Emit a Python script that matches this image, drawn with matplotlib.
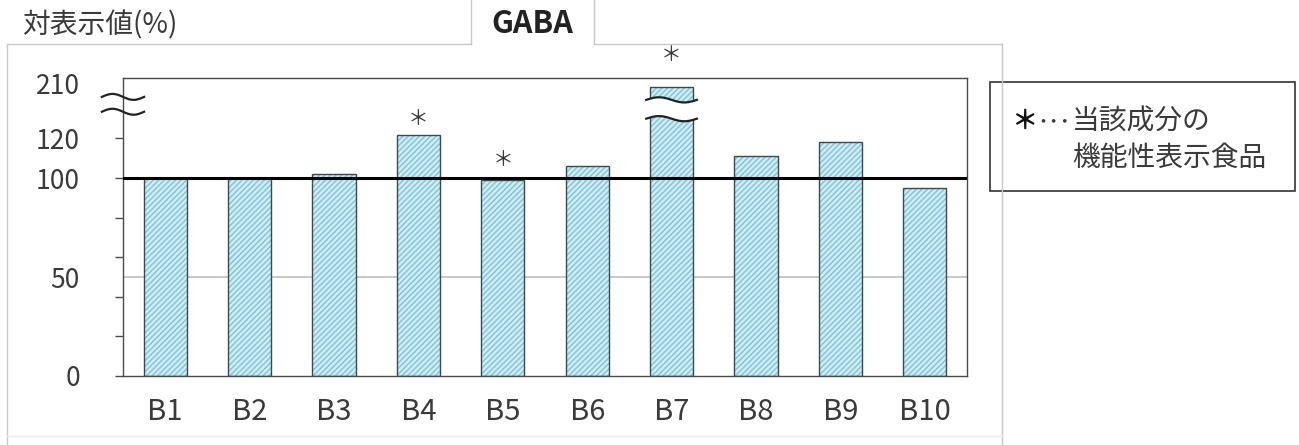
import numpy as np
import matplotlib
matplotlib.use('Agg')
import matplotlib.pyplot as plt
from matplotlib.lines import Line2D
from matplotlib.patches import Rectangle, Polygon

plt.rcParams['font.family'] = ['Noto Sans CJK JP', 'DejaVu Sans']

# data (% of labelled value)
labels = ['B1', 'B2', 'B3', 'B4', 'B5', 'B6', 'B7', 'B8', 'B9', 'B10']
values = [100, 100, 102, 122, 99, 106, 200, 111, 118, 95]
functional = [False, False, False, True, True, False, True, False, False, False]
star_pad = [0, 0, 0, 11.5, 14.5, 0, 23, 0, 0, 0]   # points above bar top

W, H = 1299, 445
TXT = '#3a3a3a'
FRAME = '#c8c8c8'


def fx(x):
    return x / W


def fy(y):
    return 1 - y / H


def to_axis(v):
    # values above the break are squeezed into the top of the axis
    if v <= 125:
        return v
    return 148 - (210 - v) * 0.2


def wave(x0, x1, y0, amp, n=60):
    t = np.linspace(0, 1, n)
    return x0 + (x1 - x0) * t, y0 + amp * np.sin(2 * np.pi * t)


fig = plt.figure(figsize=(W / 100, H / 100), dpi=100)
ax = fig.add_axes([fx(123), fy(376), (967 - 123) / W, (376 - 77.5) / H])

x = np.arange(len(labels))
disp = [to_axis(v) for v in values]

ax.bar(x, disp, width=0.51, color='#c9eef9', edgecolor='#8cc0d0',
       hatch='//////', linewidth=0, zorder=2)
ax.bar(x, disp, width=0.51, fill=False, edgecolor='#3c4a50',
       linewidth=1.0, zorder=3)

ax.axhline(50, color='#c4c4c4', lw=1.3, zorder=1)
ax.axhline(100, color='black', lw=2.2, zorder=4)

ax.set_xlim(-0.5, len(labels) - 0.5)
ax.set_ylim(0, 150.8)

# break on B7 bar
i7 = labels.index('B7')
xl, yl = wave(i7 - 0.30, i7 + 0.30, 130.0, 1.3)
xu, yu = wave(i7 - 0.30, i7 + 0.30, 139.5, 1.3)
ax.add_patch(Polygon(np.column_stack([np.r_[xl, xu[::-1]], np.r_[yl, yu[::-1]]]),
                     closed=True, facecolor='white', edgecolor='none', zorder=4))
ax.plot(xl, yl, color='#222222', lw=1.6, zorder=5)
ax.plot(xu, yu, color='#222222', lw=1.6, zorder=5)

# break on the y axis
for yb in (133.5, 141.0):
    xw, yw = wave(-0.75, -0.25, yb, 1.5)
    ax.plot(xw, yw, color='#222222', lw=1.6, clip_on=False, zorder=6)

# asterisks for functional foods
for i, flag in enumerate(functional):
    if flag:
        ax.annotate('＊', (x[i], disp[i]), xytext=(0, star_pad[i]),
                    textcoords='offset points', ha='center', va='center',
                    fontsize=15, color=TXT, annotation_clip=False)

for s in ax.spines.values():
    s.set_color('#4a4a4a')
    s.set_linewidth(1.0)

ax.set_yticks([0, 20, 40, 60, 80, 100, 120])
ax.set_yticklabels(['0', '', '', '', '', '100', '120'])
ax.set_yticks([50, 148], minor=True)
ax.set_yticklabels(['50', '210'], minor=True)
ax.tick_params(axis='y', which='major', direction='out', length=6, width=1,
               color='#4a4a4a', labelsize=19, labelcolor=TXT, pad=25)
ax.tick_params(axis='y', which='minor', length=0, labelsize=19,
               labelcolor=TXT, pad=31)
ax.set_xticks(x)
ax.set_xticklabels(labels)
ax.tick_params(axis='x', length=0, labelsize=21, labelcolor=TXT, pad=15)

# outer frame / tab lines
segs = [((8, 44), (471, 44)), ((594, 44), (1002, 44)),
        ((471, 0), (471, 44)), ((594, 0), (594, 44)),
        ((7, 44), (7, 445)), ((1002, 44), (1002, 445))]
for (x0, y0), (x1, y1) in segs:
    fig.add_artist(Line2D([fx(x0), fx(x1)], [fy(y0), fy(y1)],
                          transform=fig.transFigure, color=FRAME, lw=1.0))
fig.add_artist(Line2D([fx(7), fx(1002)], [fy(436), fy(436)],
                      transform=fig.transFigure, color='#ececec', lw=1.0))

fig.text(fx(22), fy(25), '対表示値(%)', fontsize=20, color=TXT,
         ha='left', va='center')
fig.text(fx(532), fy(24), 'GABA', fontsize=22, color='#222222',
         weight='bold', ha='center', va='center')

# note box
fig.add_artist(Rectangle((fx(990), fy(191)), (1295 - 990) / W, (191 - 82) / H,
                         transform=fig.transFigure, facecolor='white',
                         edgecolor='#333333', lw=1.2))
fig.text(fx(1011), fy(121), '＊', fontsize=19, weight='bold', color='#111111',
         ha='left', va='center')
fig.text(fx(1037), fy(122), '･･･', fontsize=16, color=TXT,
         ha='left', va='center')
fig.text(fx(1072), fy(122), '当該成分の', fontsize=20, color=TXT,
         ha='left', va='center')
fig.text(fx(1072), fy(158), '機能性表示食品', fontsize=20, color=TXT,
         ha='left', va='center')

fig.savefig('out.png', dpi=100, facecolor='white')
